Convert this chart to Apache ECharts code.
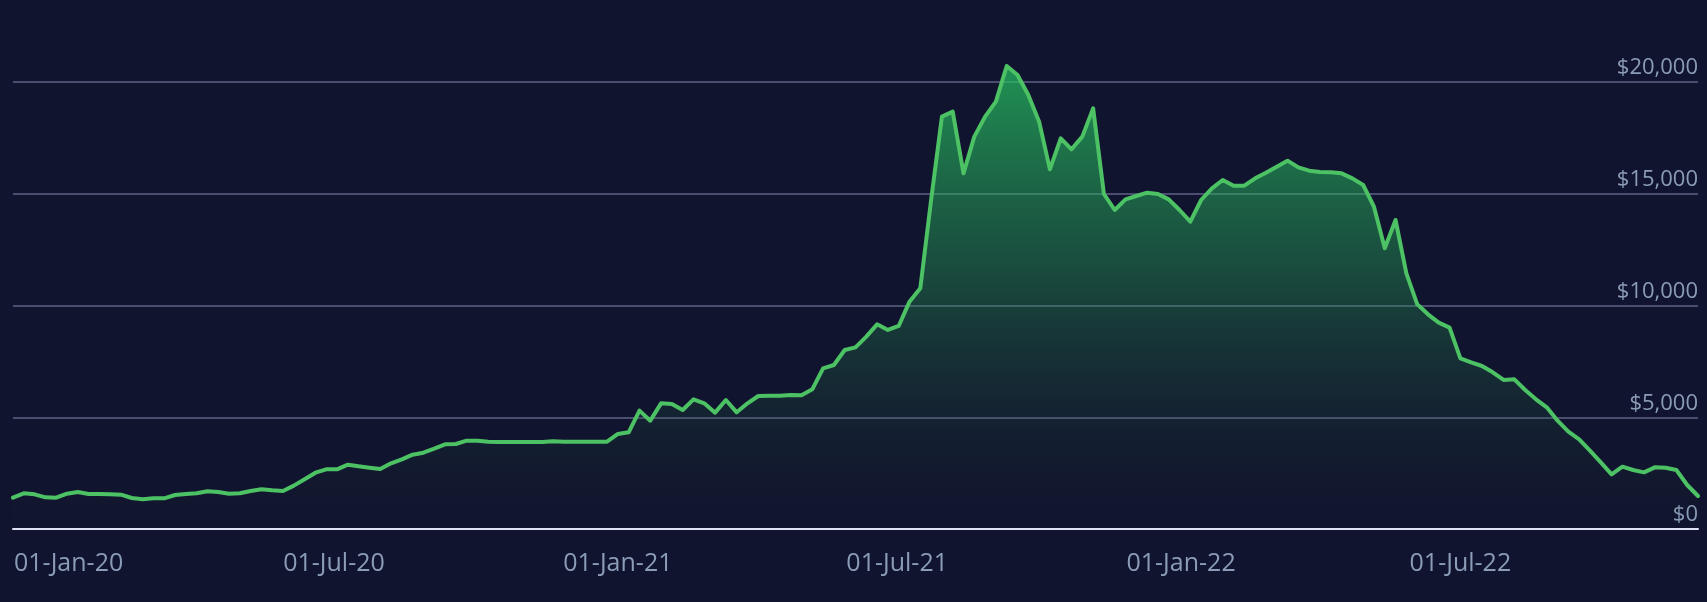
<!DOCTYPE html>
<html>
<head>
<meta charset="utf-8">
<script src="https://cdn.jsdelivr.net/npm/echarts@6/dist/echarts.min.js"></script>
<style>
html,body{margin:0;padding:0;background:#11142e;}
#chart{width:1707px;height:602px;}
</style>
</head>
<body>
<div id="chart"></div>
<script>
// Weekly series start date (first point) and values (USD)
const startDate = [2019, 11, 6];
const values = [
  1400,1597,1552,1418,1400,1581,1655,1566,1566,1552,
  1535,1387,1327,1372,1372,1521,1566,1597,1686,1655,
  1581,1597,1700,1775,1730,1700,1940,2223,2520,2670,
  2670,2878,2804,2744,2685,2938,3117,3326,3415,3594,
  3788,3803,3952,3952,3907,3893,3893,3893,3893,3893,
  3922,3907,3907,3907,3907,3907,4251,4325,5295,4847,
  5623,5593,5324,5802,5623,5205,5772,5220,5623,5951,
  5966,5966,5996,5981,6250,7189,7338,8009,8128,8605,
  9157,8904,9083,10172,10768,14720,18449,18673,15913,17555,
  18449,19120,20716,20313,19418,18225,16093,17480,16988,17555,
  18821,14989,14273,14750,14899,15048,14989,14750,14273,13751,
  14720,15244,15615,15361,15361,15690,15943,16212,16480,16182,
  16033,15973,15958,15913,15690,15391,14422,12559,13826,11441,
  10060,9606,9232,9009,7636,7457,7293,7010,6667,6696,
  6219,5802,5443,4847,4355,4012,3505,2982,2446,2789,
  2640,2535,2759,2744,2640,1968,1477
];
const xTickDates = [[2020,0,1],[2020,6,1],[2021,0,1],[2021,6,1],[2022,0,1],[2022,6,1]];
const yTicks = [0, 5000, 10000, 15000, 20000];

const dates = values.map((v, i) => new Date(startDate[0], startDate[1], startDate[2] + 7 * i).getTime());
const seriesData = values.map((v, i) => [dates[i], v]);
const xTickValues = xTickDates.map(d => new Date(d[0], d[1], d[2]).getTime());
const MONTHS = ['Jan','Feb','Mar','Apr','May','Jun','Jul','Aug','Sep','Oct','Nov','Dec'];
function fmtDate(t) {
  const d = new Date(t);
  const dd = String(d.getDate()).padStart(2, '0');
  const yy = String(d.getFullYear() % 100).padStart(2, '0');
  return dd + '-' + MONTHS[d.getMonth()] + '-' + yy;
}
function fmtMoney(v) {
  return '$' + String(Math.round(v)).replace(/\B(?=(\d{3})+(?!\d))/g, ',');
}

const chart = echarts.init(document.getElementById('chart'), null, {renderer: 'canvas'});
chart.setOption({
  backgroundColor: '#11142e',
  animation: false,
  grid: {left: 13, right: 9, top: 82, bottom: 73, containLabel: false, outerBoundsMode: 'none'},
  xAxis: {
    type: 'value',
    min: dates[0],
    max: dates[dates.length - 1],
    axisLine: {show: true, onZero: false, lineStyle: {color: '#dfe2f4', width: 2}},
    axisTick: {show: false},
    splitLine: {show: false},
    axisLabel: {
      customValues: xTickValues,
      showMinLabel: true,
      showMaxLabel: true,
      color: '#8b9cb7',
      fontFamily: 'Open Sans',
      fontSize: 25,
      margin: 22,
      formatter: function (val) {
        const s = fmtDate(val);
        if (val === xTickValues[0]) return '{first|' + s + '}';
        return s;
      },
      rich: {
        first: {color: '#8b9cb7', fontFamily: 'Open Sans', fontSize: 25, padding: [0, 0, 0, 31]}
      }
    }
  },
  yAxis: {
    type: 'value',
    position: 'right',
    min: yTicks[0],
    max: yTicks[yTicks.length - 1],
    interval: yTicks[1] - yTicks[0],
    axisLine: {show: false},
    axisTick: {show: false},
    splitLine: {show: true, lineStyle: {color: '#4a4e70', width: 2}},
    axisLabel: {
      inside: true,
      margin: 0,
      color: '#8b9cb7',
      fontFamily: 'Open Sans',
      fontSize: 22,
      verticalAlign: 'bottom',
      lineHeight: 22,
      padding: [0, 0, 3, 0],
      formatter: function (v) { return fmtMoney(v); }
    }
  },
  series: [{
    type: 'line',
    data: seriesData,
    symbol: 'none',
    clip: false,
    lineStyle: {color: '#4cc264', width: 4, join: 'round', cap: 'round'},
    areaStyle: {
      color: new echarts.graphic.LinearGradient(0, 0, 0, 1, [
        {offset: 0, color: 'rgba(38,200,100,1)'},
        {offset: 0.45, color: 'rgba(38,160,85,0.55)'},
        {offset: 1, color: 'rgba(30,60,50,0)'}
      ])
    }
  }]
});
</script>
</body>
</html>
